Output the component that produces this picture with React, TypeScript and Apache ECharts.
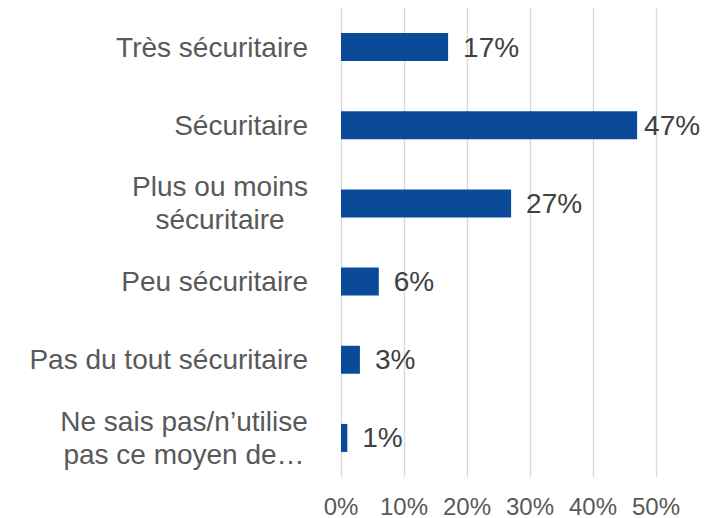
import React, { useEffect, useRef } from "react";
import * as echarts from "echarts";

const categories = [
  "Très sécuritaire",
  "Sécuritaire",
  "Plus ou moins\nsécuritaire",
  "Peu sécuritaire",
  "Pas du tout sécuritaire",
  "Ne sais pas/n’utilise\npas ce moyen de…",
];
const values = [17, 47, 27, 6, 3, 1];
const xTicks = { min: 0, max: 50, interval: 10 };

const FONT = "'Liberation Sans', Arial, sans-serif";
const CAT_SIZE = 28;
const LINE_H = 33;

function measure(text: string): number {
  const c = document.createElement("canvas").getContext("2d");
  if (!c) return text.length * CAT_SIZE * 0.5;
  c.font = `${CAT_SIZE}px 'Liberation Sans', Arial, sans-serif`;
  return c.measureText(text).width;
}

export default function App() {
  const ref = useRef<HTMLDivElement>(null);
  useEffect(() => {
    if (!ref.current) return;
    const chart = echarts.init(ref.current, undefined, { renderer: "svg" });
    const rich: Record<string, any> = {
      a: { fontSize: CAT_SIZE, fontFamily: FONT, color: "#595959", lineHeight: LINE_H },
    };
    const labelMap: Record<string, string> = {};
    categories.forEach((cat, i) => {
      const lines = cat.split("\n");
      if (lines.length === 1) {
        labelMap[cat] = `{a|${cat}}`;
      } else {
        const w = Math.max(...lines.map(measure));
        const key = "w" + i;
        rich[key] = {
          fontSize: CAT_SIZE,
          fontFamily: FONT,
          color: "#595959",
          lineHeight: LINE_H,
          width: Math.ceil(w),
          align: "center",
        };
        labelMap[cat] = lines.map((l) => `{${key}|${l}}`).join("\n");
      }
    });
    const maxVal = Math.max(...values);
    chart.setOption({
      animation: false,
      grid: { left: 341, right: 49, top: 8, bottom: 37, containLabel: false },
      xAxis: {
        type: "value",
        min: xTicks.min,
        max: xTicks.max,
        interval: xTicks.interval,
        axisLine: { show: false },
        axisTick: { show: false },
        splitLine: { show: true, lineStyle: { color: "#d9d9d9", width: 1.3 } },
        axisLabel: {
          formatter: "{value}%",
          fontSize: 24,
          fontFamily: FONT,
          color: "#595959",
          margin: 17,
        },
      },
      yAxis: {
        type: "category",
        data: categories,
        inverse: true,
        axisLine: { show: false },
        axisTick: { show: false },
        splitLine: { show: false },
        axisLabel: {
          margin: 33,
          formatter: (v: string) => labelMap[v] ?? v,
          rich,
        },
      },
      series: [
        {
          type: "bar",
          data: values.map((v) =>
            v === maxVal ? { value: v, label: { distance: 7 } } : v
          ),
          barWidth: 28,
          itemStyle: { color: "#0B4A98" },
          label: {
            show: true,
            position: "right",
            distance: 15,
            formatter: "{c}%",
            fontSize: 28,
            fontFamily: FONT,
            color: "#404040",
          },
        },
      ],
    });
    return () => chart.dispose();
  }, []);
  return (
    <div
      ref={ref}
      style={{ position: "absolute", left: 0, top: 0, width: 705, height: 518 }}
    />
  );
}
